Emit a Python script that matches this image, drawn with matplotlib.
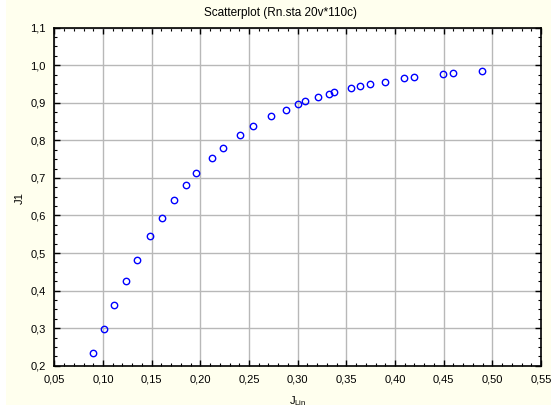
import matplotlib
matplotlib.use("Agg")
import matplotlib.pyplot as plt
from matplotlib.ticker import MultipleLocator, FuncFormatter
from matplotlib.patches import Rectangle

x_vals = [0.0901, 0.1010, 0.1116, 0.1239, 0.1346, 0.1486, 0.1606, 0.1726,
          0.1855, 0.1958, 0.2122, 0.2235, 0.2407, 0.2543, 0.2725, 0.2876,
          0.2999, 0.3077, 0.3207, 0.3324, 0.3375, 0.3543, 0.3642, 0.3745,
          0.3895, 0.4097, 0.4193, 0.4494, 0.4594, 0.4895]
y_vals = [0.233, 0.2985, 0.362, 0.4245, 0.482, 0.545, 0.592, 0.640,
          0.682, 0.713, 0.753, 0.781, 0.815, 0.8375, 0.865, 0.882,
          0.897, 0.905, 0.9155, 0.924, 0.929, 0.9386, 0.9447, 0.951,
          0.9564, 0.966, 0.9678, 0.9758, 0.979, 0.9856]

title = "Scatterplot (Rn.sta 20v*110c)"
x_label = "J$_{\\mathregular{Lin}}$"
y_label = "J1"

plt.rcParams['font.family'] = ['Liberation Sans', 'DejaVu Sans']

W, H = 551, 412
fig = plt.figure(figsize=(W / 100, H / 100), dpi=100)
bg = '#ffffee'
fig.patch.set_facecolor(bg)
# white strips on left and bottom
fig.patches.append(Rectangle((0, 0), 6 / W, 1, transform=fig.transFigure,
                             facecolor='white', edgecolor='none', zorder=-1))
fig.patches.append(Rectangle((0, 0), 1, 7 / H, transform=fig.transFigure,
                             facecolor='white', edgecolor='none', zorder=-1))

left, right, top, bottom = 54.3, 541, 27.7, 365.7
ax = fig.add_axes([left / W, 1 - bottom / H, (right - left) / W, (bottom - top) / H])
ax.set_facecolor('white')

ax.plot(x_vals, y_vals, linestyle='none', marker='o', markersize=4.6,
        markerfacecolor='none', markeredgecolor='#0000ff', markeredgewidth=1.0,
        zorder=3)

ax.set_xlim(0.05, 0.55)
ax.set_ylim(0.2, 1.1)
ax.xaxis.set_major_locator(MultipleLocator(0.05))
ax.xaxis.set_minor_locator(MultipleLocator(0.01))
ax.yaxis.set_major_locator(MultipleLocator(0.1))
ax.yaxis.set_minor_locator(MultipleLocator(0.025))
ax.xaxis.set_major_formatter(FuncFormatter(lambda v, p: f"{v:.2f}".replace('.', ',')))
ax.yaxis.set_major_formatter(FuncFormatter(lambda v, p: f"{v:.1f}".replace('.', ',')))

ax.tick_params(which='both', direction='in', top=True, right=True,
               labelsize=8, colors='black')
ax.tick_params(axis='x', which='major', pad=6)
ax.tick_params(axis='y', which='major', pad=6)
ax.tick_params(which='major', length=4, width=1)
ax.tick_params(which='minor', length=2.5, width=0.8)

ax.grid(True, which='major', color='#b8b8b8', linewidth=1.0)
ax.set_axisbelow(True)
for s in ax.spines.values():
    s.set_color('black')
    s.set_linewidth(1.2)

fig.text(280 / W, 1 - 13 / H, title, ha='center', va='center', fontsize=8.5)
fig.text(20 / W, 1 - 198 / H, y_label, ha='center', va='center', rotation=90, fontsize=8)
fig.text(298 / W, 1 - 401 / H, x_label, ha='center', va='center', fontsize=8)

fig.savefig('out.png', dpi=100, facecolor=fig.get_facecolor())
